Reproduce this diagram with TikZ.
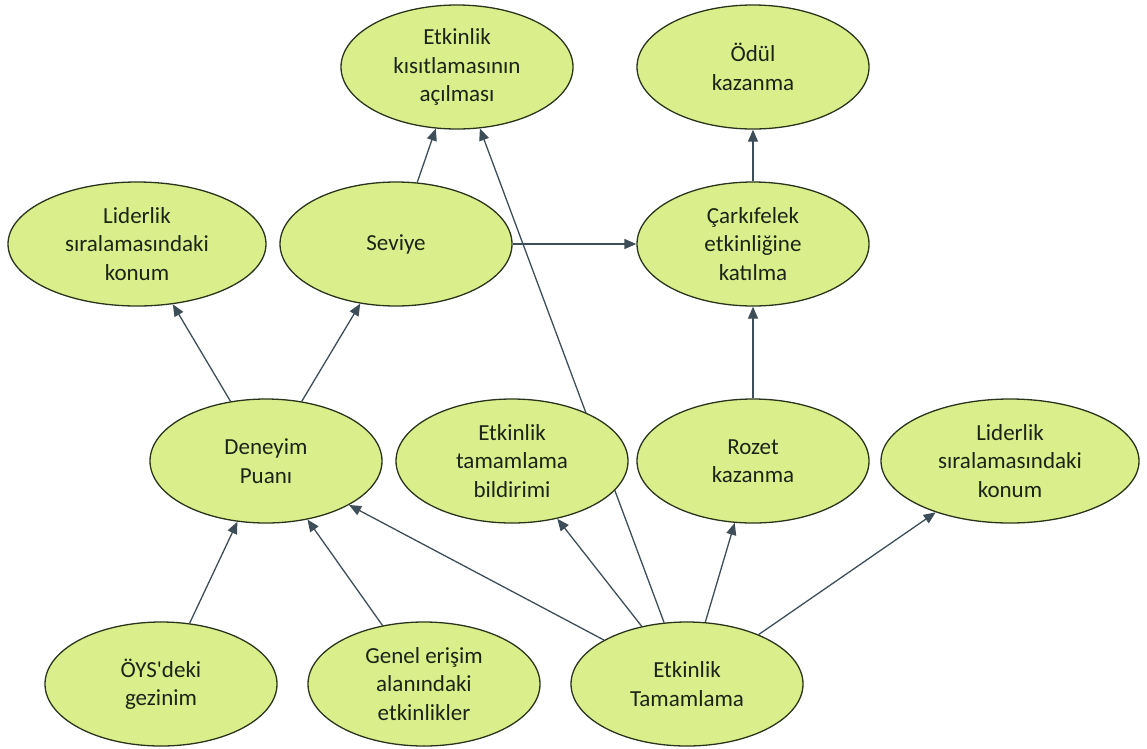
\documentclass[tikz,border=0pt]{standalone}
\usepackage{fontspec}
\setmainfont{Carlito}
\usetikzlibrary{shapes.geometric,arrows.meta,backgrounds}
\definecolor{ovalfill}{RGB}{218,239,140}
\definecolor{ovalrim}{RGB}{42,52,28}
\definecolor{ovaltext}{RGB}{28,36,22}
\definecolor{linkcol}{RGB}{62,78,88}
\begin{document}
\begin{tikzpicture}[x=1pt,y=-1pt,
  oval/.style={ellipse, draw=ovalrim, line width=1.3pt, fill=ovalfill,
    minimum width=232pt, minimum height=124pt, inner sep=0pt, align=center,
    font=\fontsize{23}{28.5}\selectfont, text=ovaltext},
  wideoval/.style={oval, minimum width=258pt},
  link/.style={draw=linkcol, line width=1.3pt, -{Triangle[length=12pt,width=10pt]}}]
\useasboundingbox (0,0) rectangle (1147,748);

% top row
\node[oval] (unlock) at (457,67) {Etkinlik\\kısıtlamasının\\açılması};
\node[oval] (reward) at (753,67) {Ödül\\kazanma};

% second row
\node[wideoval] (rankL) at (137,244) {Liderlik\\sıralamasındaki\\konum};
\node[oval] (level) at (396,244) {Seviye};
\node[oval] (wheel) at (753,244) {Çarkıfelek\\etkinliğine\\katılma};

% third row
\node[oval] (xp) at (266,461) {Deneyim\\Puanı};
\node[oval] (notice) at (512,461) {Etkinlik\\tamamlama\\bildirimi};
\node[oval] (badge) at (753,461) {Rozet\\kazanma};
\node[wideoval] (rankR) at (1010,461) {Liderlik\\sıralamasındaki\\konum};

% bottom row
\node[oval] (nav) at (161,684) {ÖYS\textquotesingle deki\\gezinim};
\node[oval] (public) at (424,684) {Genel erişim\\alanındaki\\etkinlikler};
\node[oval] (done) at (687,684) {Etkinlik\\Tamamlama};

% connectors run behind the ovals
\begin{scope}[on background layer]
  \draw[link] (xp) -- (rankL);
  \draw[link] (xp) -- (level);
  \draw[link] (level) -- (unlock);
  \draw[link] (level) -- (wheel);
  \draw[link] (wheel) -- (reward);
  \draw[link] (badge) -- (wheel);
  \draw[link] (nav) -- (xp);
  \draw[link] (public) -- (xp);
  \draw[link] (done) -- (xp);
  \draw[link] (done) -- (notice);
  \draw[link] (done) -- (unlock);
  \draw[link] (done) -- (badge);
  \draw[link] (done) -- (rankR);
\end{scope}
\end{tikzpicture}
\end{document}
